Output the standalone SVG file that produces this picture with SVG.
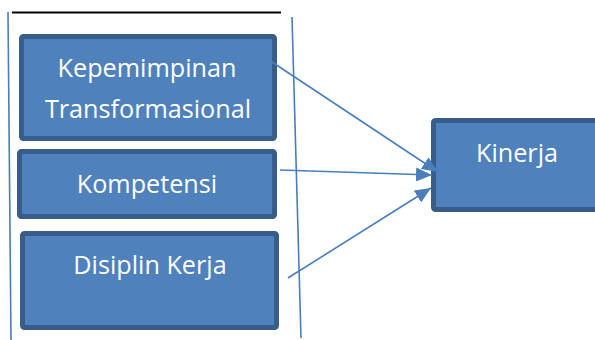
<svg xmlns="http://www.w3.org/2000/svg" width="595" height="340" viewBox="0 0 595 340">
<style>
.box{fill:#4F81BD;stroke:#385D8A;stroke-width:5}
.lbl{font-family:"Open Sans","Noto Sans",sans-serif;font-size:25.2px;fill:#FFFFFF;text-anchor:middle}
.conn{stroke:#4A7EBB;stroke-width:1.6;fill:none}
.frame{stroke:#4A7EBB;stroke-width:1.6;fill:none}
</style>
<defs>
<marker id="ah" markerUnits="userSpaceOnUse" markerWidth="16" markerHeight="14" refX="16" refY="7" orient="auto">
<path d="M0,0 L16,7 L0,14 Z" fill="#4A7EBB"/>
</marker>
</defs>
<g id="frame">
<line x1="12" y1="12.5" x2="281" y2="12.5" stroke="#000" stroke-width="2"/>
<line class="frame" x1="8" y1="12" x2="11" y2="340"/>
<line class="frame" x1="292" y1="17" x2="301" y2="338"/>
</g>
<g id="kepemimpinan">
<rect class="box" x="21.5" y="36.5" width="253" height="102" rx="2"/>
<text class="lbl" x="147" y="77">Kepemimpinan</text>
<text class="lbl" x="148" y="118">Transformasional</text>
</g>
<g id="kompetensi">
<rect class="box" x="19.5" y="151.5" width="255" height="65" rx="2"/>
<text class="lbl" x="147" y="193">Kompetensi</text>
</g>
<g id="disiplin">
<rect class="box" x="22.5" y="233.5" width="254" height="94" rx="2"/>
<text class="lbl" x="150" y="274">Disiplin Kerja</text>
</g>
<g id="kinerja">
<rect class="box" x="433.5" y="120.5" width="170" height="89" rx="2"/>
<text class="lbl" x="517" y="162">Kinerja</text>
</g>
<g id="connectors">
<line class="conn" x1="272" y1="62" x2="438" y2="172" marker-end="url(#ah)"/>
<line class="conn" x1="280" y1="170" x2="432" y2="175" marker-end="url(#ah)"/>
<line class="conn" x1="288" y1="278" x2="431" y2="188" marker-end="url(#ah)"/>
</g>
</svg>
